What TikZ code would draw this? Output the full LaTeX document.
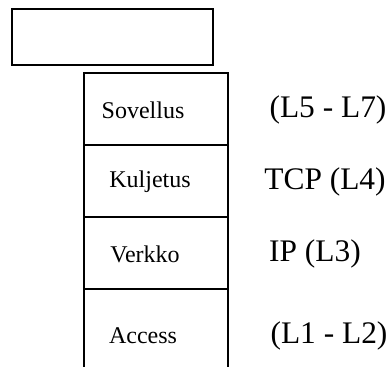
\documentclass[tikz,border=0pt]{standalone}
\usepackage{fontspec}
\setmainfont{Liberation Serif}
\usetikzlibrary{positioning}

\begin{document}
\begin{tikzpicture}[
    x=0.5pt, y=-0.5pt,
    frame/.style={draw, line width=0.6pt, minimum width=100.5pt, minimum height=28pt, inner sep=0pt},
    edge/.style={line width=0.6pt},
    layer/.style={font=\fontsize{12}{14}\selectfont, inner sep=0pt},
    proto/.style={font=\fontsize{15.7}{18}\selectfont, inner sep=0pt}
]
\useasboundingbox (0,0) rectangle (390,367);
\node[frame] (head) at (112.5,37) {};

% protocol stack
\draw[edge] (84,367) |- (228,73) -- (228,367);
\foreach \y in {145,217,289}
  \draw[edge] (84,\y) -- (228,\y);

\node[layer] (sovellus) at (143,110) {Sovellus};
\node[layer] (kuljetus) at (150,182) {Kuljetus};
\node[layer] (verkko) at (145,254) {Verkko};
\node[layer] (access) at (143,336) {Access};

\node[proto] (l57) at (328,110) {(L5 - L7)};
\node[proto] (tcp) at (325,182) {TCP (L4)};
\node[proto] (ip) at (315,254) {IP (L3)};
\node[proto] (l12) at (329,336) {(L1 - L2)};
\end{tikzpicture}
\end{document}
